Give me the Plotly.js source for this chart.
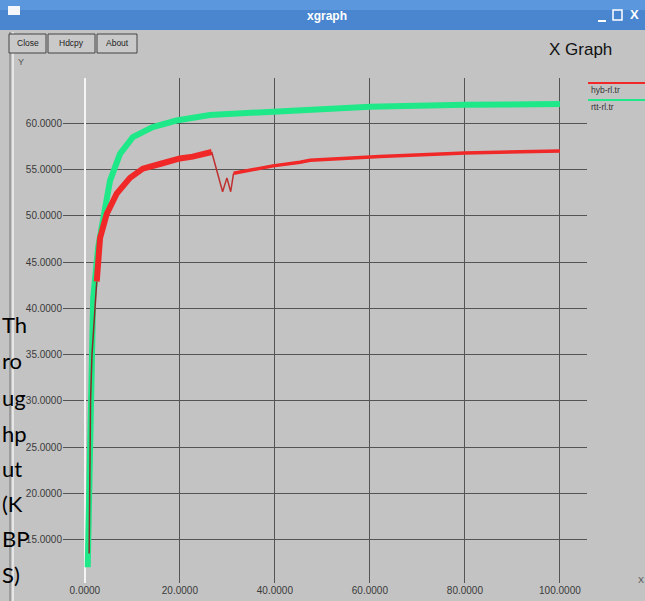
<!DOCTYPE html>
<html>
<head>
<meta charset="utf-8">
<script src="https://cdn.plot.ly/plotly-3.0.1.min.js"></script>
<style>html,body{margin:0;padding:0;background:#c3c3c3;overflow:hidden}#chart{width:645px;height:601px}</style>
</head>
<body>
<div id="chart"></div>
<script>
// ---- data ----
const seriesNames = ["hyb-rl.tr", "rtt-rl.tr"];

const greenX = [0.6, 0.9, 1.2, 1.5, 1.75, 2.8, 3.9, 5.3, 7.4, 10.1, 14.3, 19.3, 26.3, 36.8, 47.4, 60, 80, 100];
const greenY = [12.0, 20.0, 30.0, 37.8, 41.1, 46.6, 50.2, 53.8, 56.7, 58.5, 59.6, 60.3, 60.9, 61.2, 61.6, 61.8, 62.0, 62.1];

const redStartX = [0.9, 1.0, 1.2, 1.5, 1.75, 2.1, 2.5];
const redStartY = [13.5, 20.0, 30.0, 35.0, 37.0, 40.0, 42.9];

const redX = [2.5, 3.2, 4.6, 6.7, 9.5, 12.2, 15.8, 20.0, 22.7, 26.7];
const redY = [42.9, 47.6, 50.2, 52.4, 54.1, 55.1, 55.6, 56.2, 56.4, 56.9];

const redDipX = [26.7, 29.0, 29.9, 30.7, 31.3];
const redDipY = [56.9, 52.6, 54.1, 52.6, 54.6];

const redTailX = [31.3, 36.8, 39.6, 45.3, 47.4, 62.1, 80.0, 100.0];
const redTailY = [54.6, 55.1, 55.4, 55.8, 56.0, 56.4, 56.8, 57.0];

const xTicks = [0, 20, 40, 60, 80, 100];
const yTicks = [15, 20, 25, 30, 35, 40, 45, 50, 55, 60];
const yTitleParts = ["Th", "ro", "ug", "hp", "ut", "(K", "BP", "S)"];

// ---- layout helpers (pixel -> paper) ----
const L = 63, R = 587, T = 78, B = 583, W = 645, H = 601;
const px = x => (x - L) / (R - L);
const py = y => (B - y) / (B - T);

const RED = "#f02828", GREEN = "#1ee888";

const traces = [
  {x: greenX, y: greenY, mode: "lines", line: {color: GREEN, width: 6}, name: seriesNames[1]},
  {x: redStartX, y: redStartY, mode: "lines", line: {color: "#8a2a2a", width: 1.5}, name: seriesNames[0]},
  {x: redX, y: redY, mode: "lines", line: {color: RED, width: 6}, name: seriesNames[0]},
  {x: redDipX, y: redDipY, mode: "lines", line: {color: "#c03030", width: 1.5}, name: seriesNames[0]},
  {x: redTailX, y: redTailY, mode: "lines", line: {color: RED, width: 3.5}, name: seriesNames[0]}
];

const shapes = [];
const ann = [];
function rect(x0, y0, x1, y1, fill, lc, lw) {
  shapes.push({type: "rect", xref: "paper", yref: "paper", x0: px(x0), x1: px(x1), y0: py(y1), y1: py(y0),
    fillcolor: fill, line: {color: lc || fill, width: lw || 0}, layer: "above"});
}
function line(x0, y0, x1, y1, c, w) {
  shapes.push({type: "line", xref: "paper", yref: "paper", x0: px(x0), x1: px(x1), y0: py(y0), y1: py(y1),
    line: {color: c, width: w}, layer: "above"});
}
function text(t, x, y, size, color, anchor, family) {
  ann.push({text: t, xref: "paper", yref: "paper", x: px(x), y: py(y), showarrow: false,
    xanchor: anchor || "center", yanchor: "middle", font: {size: size, color: color, family: family || "Liberation Sans"}});
}

// window title bar
rect(0, 0, W, 30, "#4a86d0");
rect(0, 0, W, 10, "#5b97dc");
rect(8, 6, 20, 15, "#f4f6fa");
text("<b>xgraph</b>", 327, 16, 12, "#ffffff");
line(598, 21, 606, 21, "#ffffff", 2);
rect(613, 10, 622, 20, "rgba(0,0,0,0)", "#ffffff", 1.5);
text("<b>X</b>", 634, 15, 13, "#ffffff");
// left frame
line(10, 32, 10, H, "#777777", 1);
line(13, 32, 13, H, "#f0f0f0", 1.5);
// buttons
[["Close", 9, 46], ["Hdcpy", 48, 95], ["About", 97, 137]].forEach(b => {
  rect(b[1], 34, b[2], 53, "#c9c9c9", "#444444", 1);
  text(b[0], (b[1] + b[2]) / 2, 43.5, 8.5, "#222222");
});
text("X Graph", 580, 50, 17, "#111111");
text("Y", 21, 62, 9, "#555555");
text("X", 636, 580, 9, "#555555", "left");

// legend (xgraph style: line above label)
line(588, 83, W, 83, RED, 2);
text(seriesNames[0], 589, 90, 8.5, "#333333", "left");
line(588, 100, W, 100, GREEN, 2);
text(seriesNames[1], 589, 107, 8.5, "#333333", "left");

// overlaid y title fragments
const titleY = [324, 360, 397, 433, 468, 503, 538, 574];
yTitleParts.forEach((p, i) => text(p, 0, titleY[i], 22, "#000000", "left", "Lato"));

const layout = {
  width: W, height: H,
  margin: {l: L, r: W - R, t: T, b: H - B, pad: 0},
  paper_bgcolor: "#c3c3c3", plot_bgcolor: "#c3c3c3",
  showlegend: false,
  xaxis: {range: [-4.6, 105.7], tickvals: xTicks, tickformat: ".4f", showgrid: true, gridcolor: "#545454", gridwidth: 1,
    zeroline: true, zerolinecolor: "#f4f4f4", zerolinewidth: 2, showline: false, ticks: "",
    tickfont: {family: "Liberation Sans", size: 10, color: "#3a3a3a"}},
  yaxis: {range: [10.3, 64.9], tickvals: yTicks, tickformat: ".4f", showgrid: true, gridcolor: "#545454", gridwidth: 1,
    zeroline: false, showline: false, ticks: "",
    tickfont: {family: "Liberation Sans", size: 10, color: "#3a3a3a"}},
  shapes: shapes, annotations: ann
};
Plotly.newPlot("chart", traces, layout, {staticPlot: true, displayModeBar: false});
</script>
</body>
</html>
